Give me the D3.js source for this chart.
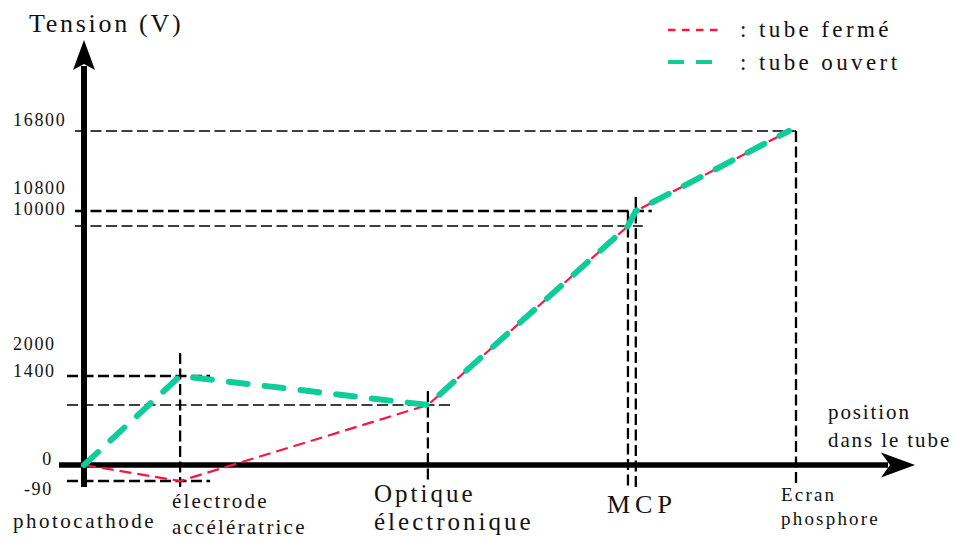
<!DOCTYPE html>
<html><head><meta charset="utf-8">
<script src="https://cdn.jsdelivr.net/npm/d3@7"></script>
<style>
html,body{margin:0;padding:0;background:#fff;}
svg{display:block;}
text{font-family:"Liberation Serif","Times New Roman",serif;fill:#111;}
</style></head>
<body>
<svg id="chart" width="955" height="538"></svg>
<script>
// ---- data ----
const components = ["photocathode", "électrode accélératrice", "Optique électronique", "MCP (entrée)", "MCP (sortie)", "Ecran phosphore"];
const positions = [0, 13.5, 48.3, 76.4, 77.5, 100];          // position dans le tube (unités schématiques)
const seriesPositions = [0, 13.5, 48.3, 76.4, 77.5, 99];
const tensionFerme = [0, -90, 1400, 10000, 10800, 16800];    // tube fermé (V)
const tensionOuvert = [0, 2000, 1400, 10000, 10800, 16800];  // tube ouvert (V)
const yTickValues = [-90, 0, 1400, 2000, 10000, 10800, 16800];
const yTickLabels = ["-90", "0", "1400", "2000", "10000", "10800", "16800"];
const seriesNames = [": tube fermé", ": tube ouvert"];
const seriesColors = ["#f5173f", "#0fcc98"];

// ---- scales ----
const svg = d3.select("#chart");
const x = d3.scaleLinear().domain([0, 100]).range([84, 796]);
// schematic (broken) voltage axis
const y = d3.scaleLinear().domain(yTickValues).range([481, 465, 405, 376, 226, 211, 131]);

// ---- guide lines ----
const gGuides = svg.append("g");
const hGuides = [
  {v: 16800, x1: 75, x2: x(positions[5]), w: 1.5},
  {v: 10800, x1: 75, x2: x(positions[4]) + 16, w: 2.6},
  {v: 10000, x1: 75, x2: x(positions[4]) + 7, w: 1.5},
  {v: 2000, x1: 67, x2: x(positions[1]) + 30, w: 2.6},
  {v: 1400, x1: 67, x2: x(positions[2]) + 24, w: 1.5},
  {v: -90, x1: 67, x2: x(positions[1]) + 30, w: 2.6}
];
gGuides.selectAll("line.h").data(hGuides).join("line")
  .attr("x1", d => d.x1).attr("x2", d => d.x2)
  .attr("y1", d => y(d.v)).attr("y2", d => y(d.v))
  .attr("stroke", "#000").attr("stroke-width", d => d.w)
  .attr("stroke-dasharray", "11,4.5");
const vGuides = [
  {p: positions[1], y1: y(2000) - 23, y2: 487},
  {p: positions[2], y1: y(1400) - 14, y2: 480},
  {p: positions[3], y1: y(10800), y2: 487},
  {p: positions[4], y1: y(10800) - 14, y2: 487},
  {p: positions[5], y1: y(16800), y2: 487}
];
gGuides.selectAll("line.v").data(vGuides).join("line")
  .attr("x1", d => x(d.p)).attr("x2", d => x(d.p))
  .attr("y1", d => d.y1).attr("y2", d => d.y2)
  .attr("stroke", "#000").attr("stroke-width", 2.3)
  .attr("stroke-dasharray", "11,4.5");

// ---- axes ----
const x0 = x(0), y0 = y(0);
svg.append("line").attr("x1", 59).attr("x2", 888).attr("y1", y0).attr("y2", y0)
  .attr("stroke", "#000").attr("stroke-width", 5.5);
svg.append("path")
  .attr("d", `M${x0 + 831},${y0} L${x0 + 797},${y0 - 12.5} L${x0 + 806},${y0} L${x0 + 797},${y0 + 12.5} Z`)
  .attr("fill", "#000");
svg.append("line").attr("x1", x0).attr("x2", x0).attr("y1", 487).attr("y2", 66)
  .attr("stroke", "#000").attr("stroke-width", 6);
svg.append("path")
  .attr("d", `M${x0},40 L${x0 + 11},70 L${x0},64 L${x0 - 11},70 Z`)
  .attr("fill", "#000");

// ---- series ----
const line = d3.line().x(d => x(d[0])).y(d => y(d[1]));
svg.append("path")
  .datum(d3.zip(seriesPositions, tensionFerme))
  .attr("d", line).attr("fill", "none")
  .attr("stroke", seriesColors[0]).attr("stroke-width", 2.2)
  .attr("stroke-dasharray", "12,6");
svg.append("path")
  .datum(d3.zip(seriesPositions, tensionOuvert))
  .attr("d", line).attr("fill", "none")
  .attr("stroke", seriesColors[1]).attr("stroke-width", 6)
  .attr("stroke-linecap", "round")
  .attr("stroke-dasharray", "19,17");

// ---- y tick labels ----
const labelDy = {"-90": 14, "0": 0, "1400": -28, "2000": -26, "10000": -11, "10800": -17, "16800": -5};
svg.append("g").selectAll("text").data(yTickValues).join("text")
  .attr("x", d => Math.abs(d) >= 1000 ? 13 : 53)
  .attr("text-anchor", d => Math.abs(d) >= 1000 ? "start" : "end")
  .attr("y", d => y(d) + labelDy[d])
  .attr("font-size", 18).attr("letter-spacing", 1.7)
  .text((d, i) => yTickLabels[i]);

// ---- component labels ----
function multi(lines, xx, baselines, size, spacing) {
  const t = svg.append("text").attr("font-size", size).attr("letter-spacing", spacing);
  lines.forEach((s, i) => t.append("tspan").attr("x", xx).attr("y", baselines[i]).text(s));
}
multi(["photocathode"], 13, [528], 21, 2.5);
multi(["électrode", "accélératrice"], 172, [508, 534], 21, 2.2);
multi(["Optique", "électronique"], 374, [502, 530], 25, 3);
multi(["MCP"], 607, [513], 26, 5);
multi(["Ecran", "phosphore"], 781, [501, 525], 19, 2.2);
multi(["position", "dans le tube"], 828, [419, 447], 21, 1.9);

// ---- title ----
svg.append("text").attr("x", 29).attr("y", 32).attr("font-size", 26)
  .attr("letter-spacing", 2.7).text("Tension (V)");

// ---- legend ----
const lg = svg.append("g");
lg.append("line").attr("x1", 668).attr("x2", 718).attr("y1", 30).attr("y2", 30)
  .attr("stroke", seriesColors[0]).attr("stroke-width", 2.5).attr("stroke-dasharray", "7.5,6.5");
lg.append("line").attr("x1", 668).attr("x2", 712).attr("y1", 62).attr("y2", 62)
  .attr("stroke", seriesColors[1]).attr("stroke-width", 4).attr("stroke-dasharray", "16,12");
lg.selectAll("text").data(seriesNames).join("text")
  .attr("x", 740).attr("y", (d, i) => i === 0 ? 37 : 70)
  .attr("font-size", 23).attr("letter-spacing", 3.4)
  .text(d => d);
</script>
</body></html>
